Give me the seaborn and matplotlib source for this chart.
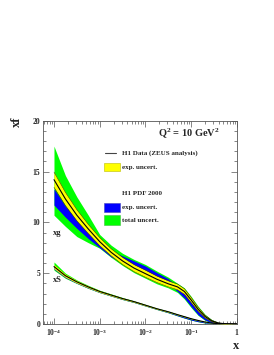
import numpy as np
import pandas as pd
import matplotlib
matplotlib.use("Agg")
import matplotlib.pyplot as plt
import seaborn as sns
from matplotlib.patches import Rectangle
from matplotlib.lines import Line2D
from matplotlib.ticker import FixedLocator, NullFormatter, LogLocator

# ---------------- data (log10 x grid) ----------------
log_x = [-4, -3.75, -3.5, -3.25, -3, -2.75, -2.5, -2.25, -2, -1.75, -1.5,
         -1.3, -1.15, -1.0, -0.85, -0.7, -0.55, -0.4, -0.2, 0]

# xg : H1 data (ZEUS analysis) central + exp. uncert.
xg_central = [14.2, 12.3, 10.7, 9.35, 8.1, 7.05, 6.2, 5.5, 4.95, 4.4, 3.95,
              3.65, 3.2, 2.35, 1.45, 0.75, 0.3, 0.08, 0.01, 0]
xg_yel_hi = [14.95, 12.95, 11.25, 9.8, 8.5, 7.4, 6.55, 5.85, 5.3, 4.72, 4.25,
             3.93, 3.47, 2.6, 1.65, 0.88, 0.37, 0.11, 0.02, 0]
xg_yel_lo = [13.45, 11.65, 10.15, 8.9, 7.7, 6.7, 5.85, 5.15, 4.6, 4.08, 3.65,
             3.37, 2.93, 2.1, 1.25, 0.62, 0.23, 0.05, 0.0, 0]
# xg : H1 PDF 2000 exp. uncert. (blue) and total uncert. (green)
xg_blue_hi = [13.3, 11.6, 10.4, 9.1, 8.0, 7.15, 6.7, 6.2, 5.7, 5.05, 4.45,
              3.6, 3.0, 2.15, 1.3, 0.65, 0.25, 0.07, 0.01, 0]
xg_blue_lo = [11.7, 10.5, 9.4, 8.4, 7.5, 6.6, 6.05, 5.6, 5.05, 4.45, 3.95,
              3.2, 2.55, 1.7, 0.9, 0.4, 0.12, 0.03, 0.0, 0]
xg_green_hi = [17.5, 14.6, 12.5, 10.7, 8.8, 7.75, 6.95, 6.35, 5.85, 5.2, 4.6,
               4.0, 3.55, 2.7, 1.75, 0.95, 0.42, 0.13, 0.02, 0]
xg_green_lo = [10.7, 9.6, 8.6, 8.0, 7.45, 6.55, 5.75, 5.05, 4.5, 3.95, 3.55,
               3.1, 2.45, 1.6, 0.85, 0.36, 0.1, 0.02, 0.0, 0]

# xS
xs_central = [5.65, 4.75, 4.15, 3.65, 3.2, 2.85, 2.5, 2.2, 1.85, 1.5, 1.2,
              0.92, 0.72, 0.52, 0.35, 0.2, 0.09, 0.03, 0.005, 0]
xs_yel_hi = [5.85, 4.9, 4.27, 3.75, 3.29, 2.93, 2.57, 2.26, 1.91, 1.55, 1.25,
             0.96, 0.76, 0.55, 0.37, 0.22, 0.1, 0.035, 0.005, 0]
xs_yel_lo = [5.45, 4.6, 4.03, 3.55, 3.11, 2.77, 2.43, 2.14, 1.79, 1.45, 1.15,
             0.88, 0.68, 0.49, 0.33, 0.18, 0.08, 0.025, 0.0, 0]
xs_blue_hi = [5.75, 4.8, 4.18, 3.67, 3.21, 2.86, 2.5, 2.2, 1.85, 1.5, 1.18,
              0.9, 0.7, 0.5, 0.33, 0.19, 0.08, 0.03, 0.004, 0]
xs_blue_lo = [5.4, 4.55, 4.0, 3.52, 3.09, 2.75, 2.41, 2.12, 1.77, 1.43, 1.11,
              0.81, 0.59, 0.39, 0.23, 0.11, 0.045, 0.012, 0.0, 0]
xs_green_hi = [6.1, 5.0, 4.33, 3.8, 3.32, 2.96, 2.6, 2.28, 1.93, 1.57, 1.27,
               0.98, 0.78, 0.57, 0.38, 0.22, 0.1, 0.035, 0.005, 0]
xs_green_lo = [5.3, 4.5, 3.98, 3.5, 3.08, 2.74, 2.4, 2.11, 1.76, 1.42, 1.1,
               0.8, 0.58, 0.38, 0.22, 0.1, 0.04, 0.01, 0.0, 0]

y_ticks = [0, 5, 10, 15, 20]
x_ticks = [1e-4, 1e-3, 1e-2, 1e-1, 1]
x_ticklabels = [r"$\mathbf{10^{-4}}$", r"$\mathbf{10^{-3}}$", r"$\mathbf{10^{-2}}$",
                r"$\mathbf{10^{-1}}$", r"$\mathbf{1}$"]

legend_labels = ["H1 Data (ZEUS analysis)", "exp. uncert.", "H1 PDF 2000",
                 "exp. uncert.", "total uncert."]

# ---------------- style ----------------
sns.set_style("ticks")
plt.rcParams["font.family"] = ["Liberation Serif", "DejaVu Serif"]
plt.rcParams["font.weight"] = "bold"
plt.rcParams["mathtext.fontset"] = "custom"
plt.rcParams["mathtext.rm"] = "Liberation Serif:bold"
plt.rcParams["mathtext.bf"] = "Liberation Serif:bold"
plt.rcParams["mathtext.it"] = "Liberation Serif:bold"

W, H = 274, 355
fig = plt.figure(figsize=(W / 100, H / 100), dpi=100)
L, R, T, B = 43, 237, 120.7, 324
ax = fig.add_axes([L / W, 1 - B / H, (R - L) / W, (B - T) / H])

x = 10 ** np.array(log_x, dtype=float)

GREEN = "#00ff00"
BLUE = "#0000ff"
YELLOW = "#ffff00"

# xg bands
ax.fill_between(x, xg_green_lo, xg_green_hi, color=GREEN, lw=0, zorder=1)
ax.fill_between(x, xg_blue_lo, xg_blue_hi, color=BLUE, lw=0, zorder=2)
ax.fill_between(x, xg_yel_lo, xg_yel_hi, color=YELLOW, lw=0, zorder=3)
ax.plot(x, xg_yel_lo, color="#333300", lw=0.35, zorder=4)
ax.plot(x, xg_yel_hi, color="#333300", lw=0.35, zorder=4)
# xS bands
ax.fill_between(x, xs_green_lo, xs_green_hi, color=GREEN, lw=0, zorder=1)
ax.fill_between(x, xs_blue_lo, xs_blue_hi, color=BLUE, lw=0, zorder=2)
ax.fill_between(x, xs_yel_lo, xs_yel_hi, color=YELLOW, lw=0, zorder=3)

df = pd.DataFrame({
    "x": np.concatenate([x, x]),
    "y": xg_central + xs_central,
    "pdf": ["xg"] * len(x) + ["xS"] * len(x),
})
sns.lineplot(data=df, x="x", y="y", units="pdf", estimator=None,
             color="black", lw=0.8, ax=ax, zorder=5, legend=False)

ax.set_xscale("log")
ax.set_xlim(10 ** -4.24, 1.0)
ax.set_ylim(0, 20)
ax.set_xlabel("")
ax.set_ylabel("")

ax.set_yticks(y_ticks)
ax.set_yticklabels([str(v) for v in y_ticks], fontsize=5.5, fontweight="bold")
ax.yaxis.set_minor_locator(FixedLocator(np.arange(0, 20.1, 1)))
ax.set_xticks(x_ticks)
ax.set_xticklabels(x_ticklabels, fontsize=5.5)
ax.xaxis.set_minor_locator(LogLocator(base=10, subs=np.arange(2, 10), numticks=20))
ax.xaxis.set_minor_formatter(NullFormatter())
ax.tick_params(which="both", direction="in", top=True, right=True,
               color="#555555", width=0.5, pad=2)
ax.tick_params(which="major", length=4)
ax.tick_params(which="minor", length=2)
for s in ax.spines.values():
    s.set_color("#555555")
    s.set_linewidth(0.6)

def fx(px):
    return px / W

def fy(py):
    return 1 - py / H

# axis titles
fig.text(fx(17), fy(122), "xf", rotation=90, fontsize=9, fontweight="bold",
         ha="center", va="center")
fig.text(fx(236), fy(346), "x", fontsize=9, fontweight="bold",
         ha="center", va="center")

# curve labels
fig.text(fx(53), fy(233), "xg", fontsize=6, fontweight="bold", ha="left", va="center")
fig.text(fx(53), fy(280), "xS", fontsize=6, fontweight="bold", ha="left", va="center")

# Q2 label
fig.text(fx(158), fy(133), r"$\mathbf{Q^2}$ = 10 GeV$\mathbf{^2}$", fontsize=7.5,
         fontweight="bold", ha="left", va="center")

# legend
txt_x = fx(122)
fig.add_artist(Line2D([fx(105), fx(116)], [fy(153), fy(153)], color="#444444", lw=0.8))
fig.text(txt_x, fy(153), legend_labels[0], fontsize=5, fontweight="bold", va="center")
fig.add_artist(Rectangle((fx(104), fy(170.5)), (120 - 104) / W, 8 / H,
                         facecolor=YELLOW, edgecolor="#bbbb00", lw=0.4))
fig.text(txt_x, fy(167), legend_labels[1], fontsize=5, fontweight="bold", va="center")
fig.text(txt_x, fy(193), legend_labels[2], fontsize=5, fontweight="bold", va="center")
fig.add_artist(Rectangle((fx(104), fy(211.5)), (120 - 104) / W, 9 / H,
                         facecolor=BLUE, edgecolor="#4444bb", lw=0.4))
fig.text(txt_x, fy(207), legend_labels[3], fontsize=5, fontweight="bold", va="center")
fig.add_artist(Rectangle((fx(104), fy(225)), (120 - 104) / W, 10 / H,
                         facecolor=GREEN, edgecolor="#44bb44", lw=0.4))
fig.text(txt_x, fy(220.5), legend_labels[4], fontsize=5, fontweight="bold", va="center")

fig.savefig("out.png", dpi=100)
